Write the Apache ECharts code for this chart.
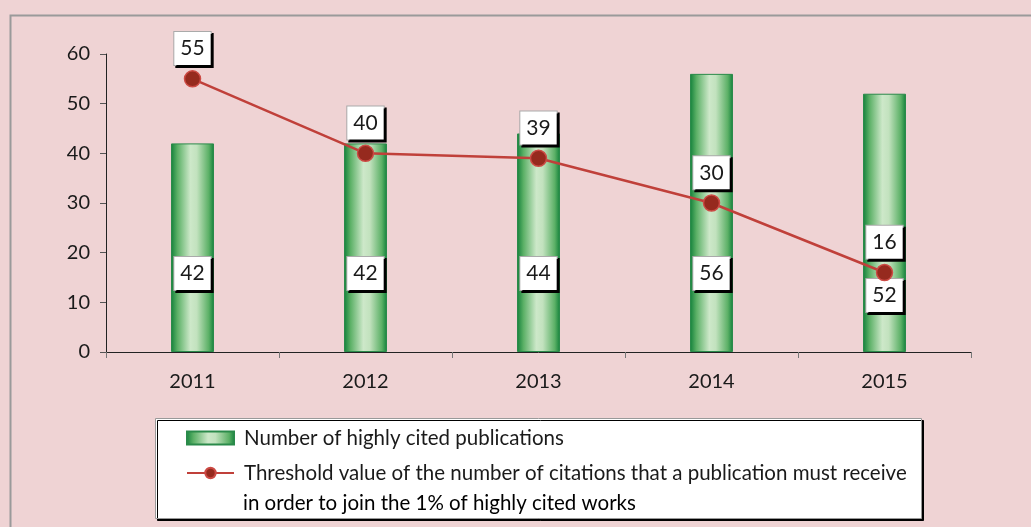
<!DOCTYPE html>
<html>
<head>
<meta charset="utf-8">
<script src="https://cdn.jsdelivr.net/npm/echarts@6/dist/echarts.min.js"></script>
<style>
  html, body { margin: 0; padding: 0; background: #efd3d4; }
  #main { width: 1031px; height: 527px; }
</style>
</head>
<body>
<div id="main"></div>
<script>
// data
var years = ['2011', '2012', '2013', '2014', '2015'];
var publications = [42, 42, 44, 56, 52];
var threshold = [55, 40, 39, 30, 16];
var yTicks = [0, 10, 20, 30, 40, 50, 60];
var barName = 'Number of highly cited publications';
var lineName = 'Threshold value of the number of citations that a publication must receive';
var lineNameRest = 'in order to join the 1% of highly cited works';

var myChart = echarts.init(document.getElementById('main'));

// boxed labels like the excel data labels
var boxLabel = {
  show: true,
  color: '#1a1a1a',
  fontFamily: 'Lato',
  fontSize: 21,
  backgroundColor: '#fff',
  borderColor: '#aaa',
  borderWidth: 1,
  padding: [6, 6, 6, 6],
  shadowColor: '#000',
  shadowOffsetX: 2,
  shadowOffsetY: 2,
  shadowBlur: 0
};

var barGradient = new echarts.graphic.LinearGradient(0, 0, 1, 0, [
  { offset: 0, color: '#12803a' },
  { offset: 0.15, color: '#5bb066' },
  { offset: 0.45, color: '#cde8c9' },
  { offset: 0.6, color: '#c2e2be' },
  { offset: 0.88, color: '#5bb066' },
  { offset: 1, color: '#12803a' }
]);

var barData = publications.map(function (v, i) {
  // last label sits lower in the original
  return {
    value: v,
    label: { distance: i === 4 ? 40 : 62 }
  };
});

var legendFont = { fontFamily: 'Lato', fontSize: 20.5, color: '#1a1a1a' };

var option = {
  backgroundColor: '#efd3d4',
  textStyle: { fontFamily: 'Lato' },
  graphic: [
    {
      type: 'rect',
      left: 8, top: 13,
      shape: { width: 1040, height: 530 },
      style: { fill: 'none', stroke: '#9a9a9a', lineWidth: 2 },
      silent: true
    },
    {
      // legend box
      type: 'rect',
      left: 155, top: 418,
      shape: { width: 766, height: 100 },
      style: {
        fill: '#fff', stroke: '#999', lineWidth: 1,
        shadowColor: '#000', shadowOffsetX: 2, shadowOffsetY: 2, shadowBlur: 0
      },
      z: 0,
      silent: true
    },
    {
      type: 'text',
      left: 243, top: 493,
      style: Object.assign({ text: lineNameRest }, legendFont),
      z: 10,
      silent: true
    }
  ],
  grid: {
    left: 106,
    right: 60,
    top: 54,
    bottom: 175
  },
  legend: {
    orient: 'vertical',
    left: 186,
    top: 427,
    padding: 0,
    itemGap: 13,
    itemWidth: 47,
    itemHeight: 13,
    textStyle: Object.assign({ lineHeight: 22, padding: [0, 0, 0, 5] }, legendFont),
    data: [{ name: barName, icon: 'rect' }, { name: lineName }]
  },
  xAxis: {
    type: 'category',
    data: years,
    axisLine: { lineStyle: { color: '#222', width: 1 } },
    axisTick: { show: true, length: 6, lineStyle: { color: '#777' } },
    axisLabel: { color: '#1a1a1a', fontSize: 20, margin: 20 }
  },
  yAxis: {
    type: 'value',
    min: yTicks[0],
    max: yTicks[yTicks.length - 1],
    interval: 10,
    axisLine: { show: true, lineStyle: { color: '#222', width: 1 } },
    axisTick: { show: true, length: 6, lineStyle: { color: '#555' } },
    splitLine: { show: false },
    axisLabel: { color: '#1a1a1a', fontSize: 20, margin: 16 }
  },
  series: [
    {
      name: barName,
      type: 'bar',
      data: barData,
      barWidth: 43,
      itemStyle: {
        color: barGradient,
        borderColor: '#2a8a4a',
        borderWidth: 1
      },
      label: Object.assign({}, boxLabel, { position: 'insideBottom' }),
      z: 2
    },
    {
      name: lineName,
      type: 'line',
      data: threshold,
      symbol: 'circle',
      symbolSize: 16,
      lineStyle: { color: '#c0403a', width: 2.5 },
      itemStyle: { color: '#962a1e', borderColor: '#cc4a44', borderWidth: 1.5 },
      label: Object.assign({}, boxLabel, { position: 'top', distance: 5 }),
      z: 3
    }
  ]
};

option && myChart.setOption(option);
</script>
</body>
</html>
